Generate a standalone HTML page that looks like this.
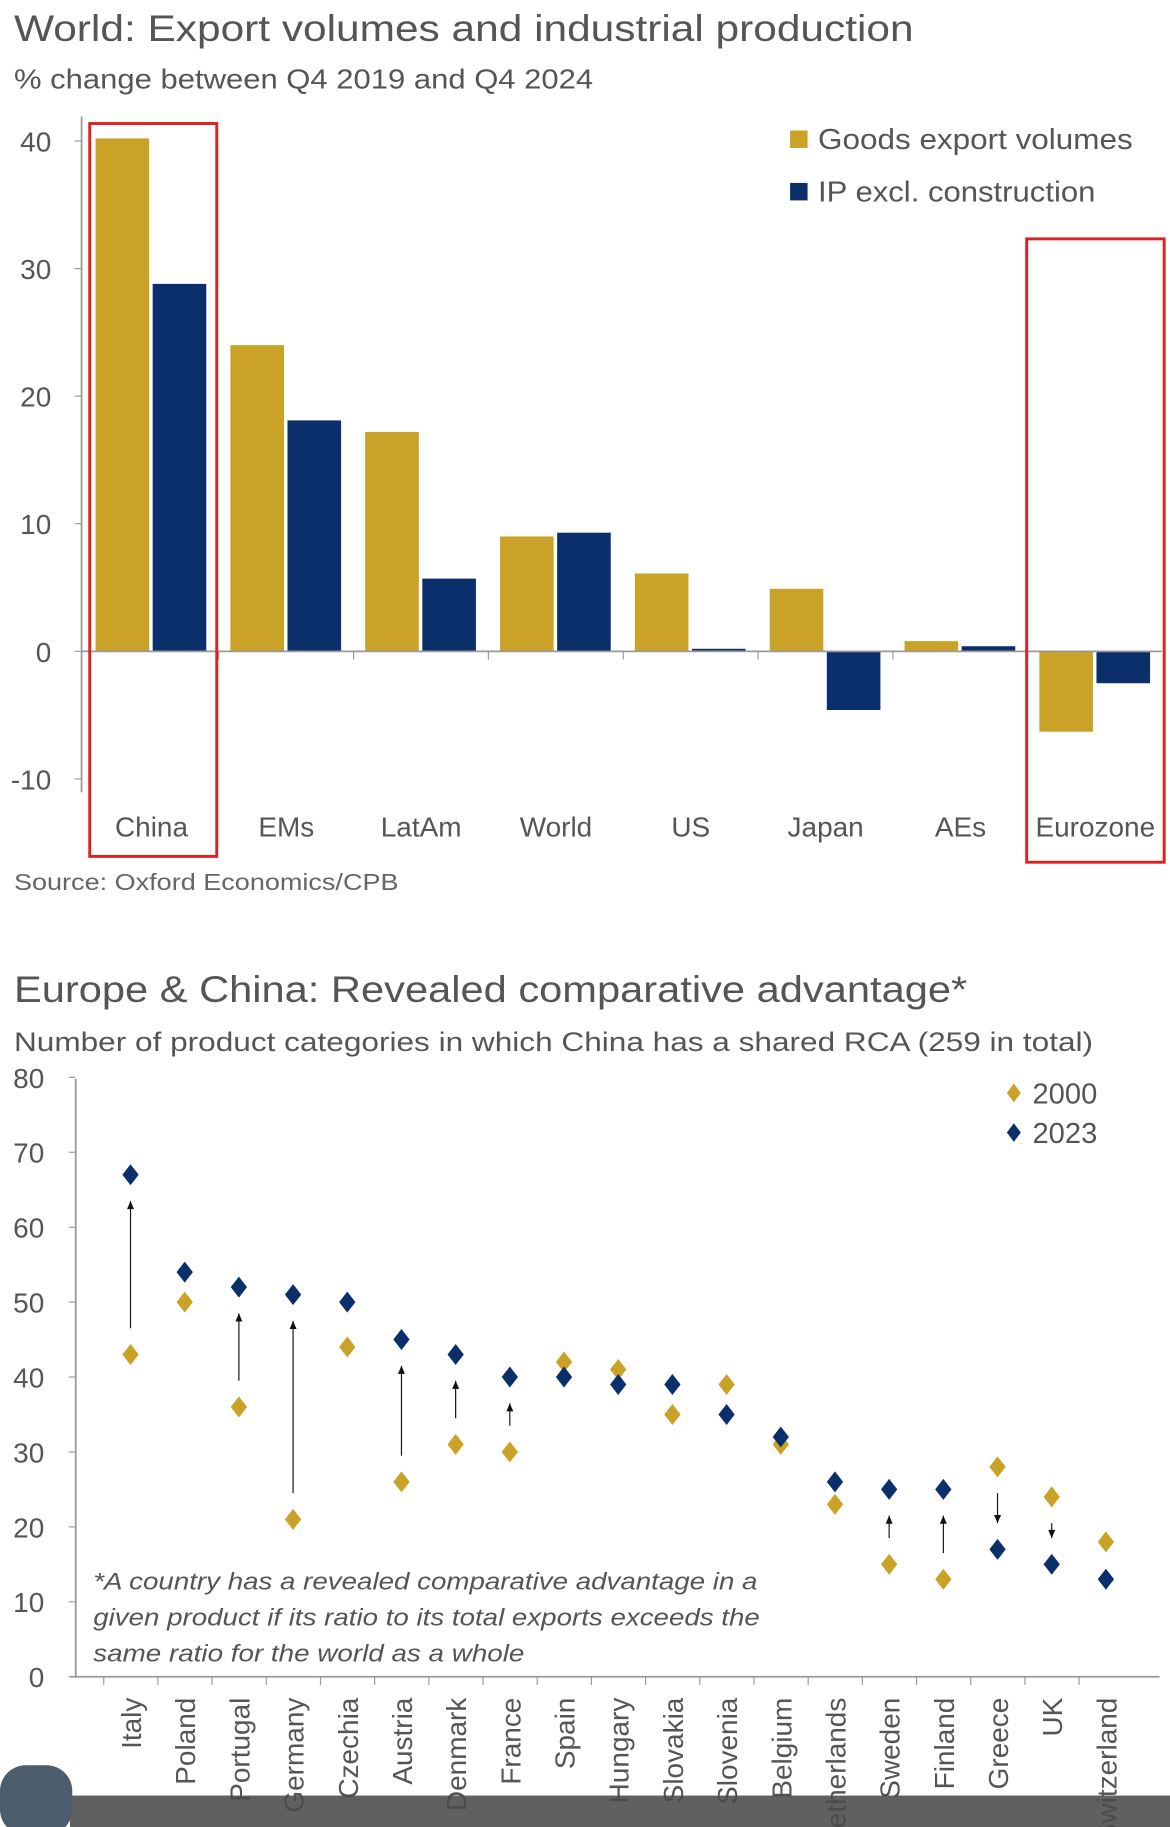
<!DOCTYPE html>
<html><head><meta charset="utf-8"><style>
html,body{margin:0;padding:0;background:#fff;}
svg{display:block;}
text{font-family:"Liberation Sans",sans-serif;}
</style></head><body>
<svg id="s" width="1170" height="1827" viewBox="0 0 1004 1568" preserveAspectRatio="none" xmlns="http://www.w3.org/2000/svg">
<rect x="0" y="0" width="1004" height="1568" fill="#fff"/>
<g id="c1">
<text x="12" y="35" font-size="32" fill="#555" textLength="772" lengthAdjust="spacingAndGlyphs">World: Export volumes and industrial production</text>
<text x="12" y="76" font-size="24" fill="#555" textLength="497" lengthAdjust="spacingAndGlyphs">% change between Q4 2019 and Q4 2024</text>
<text x="12" y="764" font-size="20" fill="#666" textLength="330" lengthAdjust="spacingAndGlyphs">Source: Oxford Economics/CPB</text>
<rect x="678" y="112" width="15" height="15" fill="#C9A227"/>
<text x="702" y="128" font-size="25" fill="#555" textLength="270" lengthAdjust="spacingAndGlyphs">Goods export volumes</text>
<rect x="678" y="157" width="15" height="15" fill="#0B2F6B"/>
<text x="702" y="173" font-size="25" fill="#555" textLength="238" lengthAdjust="spacingAndGlyphs">IP excl. construction</text>
</g>
<g id="c2">
<text x="12" y="860" font-size="32" fill="#555" textLength="818" lengthAdjust="spacingAndGlyphs">Europe &amp; China: Revealed comparative advantage*</text>
<text x="12" y="902" font-size="23" fill="#555" textLength="926" lengthAdjust="spacingAndGlyphs">Number of product categories in which China has a shared RCA (259 in total)</text>
<path d="M870 930 L876 938 L870 946 L864 938Z" fill="#C9A227"/>
<text x="886" y="947" font-size="25" fill="#555">2000</text>
<path d="M870 964 L876 972 L870 980 L864 972Z" fill="#0B2F6B"/>
<text x="886" y="981" font-size="25" fill="#555">2023</text>
<g font-size="21" font-style="italic" fill="#555">
<text x="80" y="1364" textLength="570" lengthAdjust="spacingAndGlyphs">*A country has a revealed comparative advantage in a</text>
<text x="80" y="1395" textLength="572" lengthAdjust="spacingAndGlyphs">given product if its ratio to its total exports exceeds the</text>
<text x="80" y="1426" textLength="370" lengthAdjust="spacingAndGlyphs">same ratio for the world as a whole</text>
</g>
</g>
<g id="overlay">
<rect x="60" y="1541" width="944" height="27" fill="#4a4a4a" opacity="0.88"/>
<rect x="0" y="1515" width="62" height="60" rx="22" fill="#4b5c6c"/>
</g>
</svg>
<script>
const NS="http://www.w3.org/2000/svg";
const regions=["China","EMs","LatAm","World","US","Japan","AEs","Eurozone"];
const exportVals=[40.2,24.0,17.2,9.0,6.1,4.9,0.8,-6.3];
const ipVals=[28.8,18.1,5.7,9.3,0.2,-4.6,0.4,-2.5];
const barTicks=[40,30,20,10,0,-10];
const countries=["Italy","Poland","Portugal","Germany","Czechia","Austria","Denmark","France","Spain","Hungary","Slovakia","Slovenia","Belgium","Netherlands","Sweden","Finland","Greece","UK","Switzerland"];
const rca2000=[43,50,36,21,44,26,31,30,42,41,35,39,31,23,15,13,28,24,18];
const rca2023=[67,54,52,51,50,45,43,40,40,39,39,35,32,26,25,25,17,15,13];
const rcaTicks=[80,70,60,50,40,30,20,10,0];
const arrowIdx=[0,2,3,5,6,7,14,15,16,17];

function mk(tag,attrs,parent,txt){const e=document.createElementNS(NS,tag);for(const k in attrs)e.setAttribute(k,attrs[k]);if(txt!==undefined)e.textContent=txt;parent.appendChild(e);return e;}
const c1=document.getElementById('c1'), c2=document.getElementById('c2');

const y1=v=>559-v*10.95;
const x1=i=>72+i*115.7;
mk('line',{x1:70,y1:100,x2:70,y2:680,stroke:'#999','stroke-width':1.5},c1);
barTicks.forEach(t=>{
  mk('line',{x1:64,y1:y1(t),x2:70,y2:y1(t),stroke:'#999'},c1);
  const lb=mk('text',{x:44,y:y1(t)+9,'font-size':24,fill:'#555','text-anchor':'end'},c1,String(t));
  
  
});
regions.forEach((r,i)=>{
  const ev=exportVals[i], iv=ipVals[i];
  const b1=mk('rect',{x:x1(i)+10,y:Math.min(y1(ev),y1(0)),width:46,height:Math.abs(y1(ev)-y1(0)),fill:'#C9A227'},c1);
  
  
  const b2=mk('rect',{x:x1(i)+59,y:Math.min(y1(iv),y1(0)),width:46,height:Math.abs(y1(iv)-y1(0)),fill:'#0B2F6B'},c1);
  
  
  const lb=mk('text',{x:x1(i)+58,y:718,'font-size':24,fill:'#555','text-anchor':'middle'},c1,r);
  
  
  if(i>0) mk('line',{x1:x1(i),y1:559,x2:x1(i),y2:566,stroke:'#999'},c1);
});
mk('line',{x1:70,y1:559,x2:997,y2:559,stroke:'#999','stroke-width':1.5},c1);
const hb1=mk('rect',{x:77,y:106,width:109,height:629,fill:'none',stroke:'#e02020','stroke-width':2.5},c1);


const hb2=mk('rect',{x:881,y:205,width:118,height:535,fill:'none',stroke:'#e02020','stroke-width':2.5},c1);



const y2=v=>1439-v*6.43;
const x2=i=>112+i*46.5;
mk('line',{x1:65,y1:926,x2:65,y2:1440,stroke:'#999','stroke-width':1.5},c2);
mk('line',{x1:60,y1:1439,x2:995,y2:1439,stroke:'#999','stroke-width':1.5},c2);
rcaTicks.forEach(t=>{
  mk('line',{x1:59,y1:y2(t),x2:65,y2:y2(t),stroke:'#999'},c2);
  const lb=mk('text',{x:38,y:y2(t)+9,'font-size':24,fill:'#555','text-anchor':'end'},c2,String(t));
  
  
});
function diamond(cx,cy,col,name){
  const d=mk('path',{d:`M${cx} ${cy-9} L${cx+7} ${cy} L${cx} ${cy+9} L${cx-7} ${cy}Z`,fill:col},c2);
  
  
}
countries.forEach((c,i)=>{
  const cx=x2(i);
  mk('line',{x1:cx-23,y1:1439,x2:cx-23,y2:1446,stroke:'#999'},c2);
  if(arrowIdx.includes(i)){
    const a=rca2000[i], b=rca2023[i], up=b>a;
    const s=up?a+3.5:a-3.5, e=up?b-3.5:b+3.5;
    mk('line',{x1:cx,y1:y2(s),x2:cx,y2:y2(e),stroke:'#111','stroke-width':1},c2);
    const ye=y2(e), dir=up?1:-1;
    mk('path',{d:`M${cx} ${ye} L${cx-3} ${ye+7*dir} L${cx+3} ${ye+7*dir}Z`,fill:'#111'},c2);
  }
  diamond(cx,y2(rca2000[i]),'#C9A227','marker-2000-'+c.toLowerCase());
  diamond(cx,y2(rca2023[i]),'#0B2F6B','marker-2023-'+c.toLowerCase());
  const lb=mk('text',{x:0,y:0,'font-size':24,fill:'#555','text-anchor':'end',transform:`translate(${cx+9},1457) rotate(-90)`},c2,c);
  
  
});
const s=document.getElementById('s');
s.appendChild(document.getElementById('overlay'));
</script>
</body></html>
